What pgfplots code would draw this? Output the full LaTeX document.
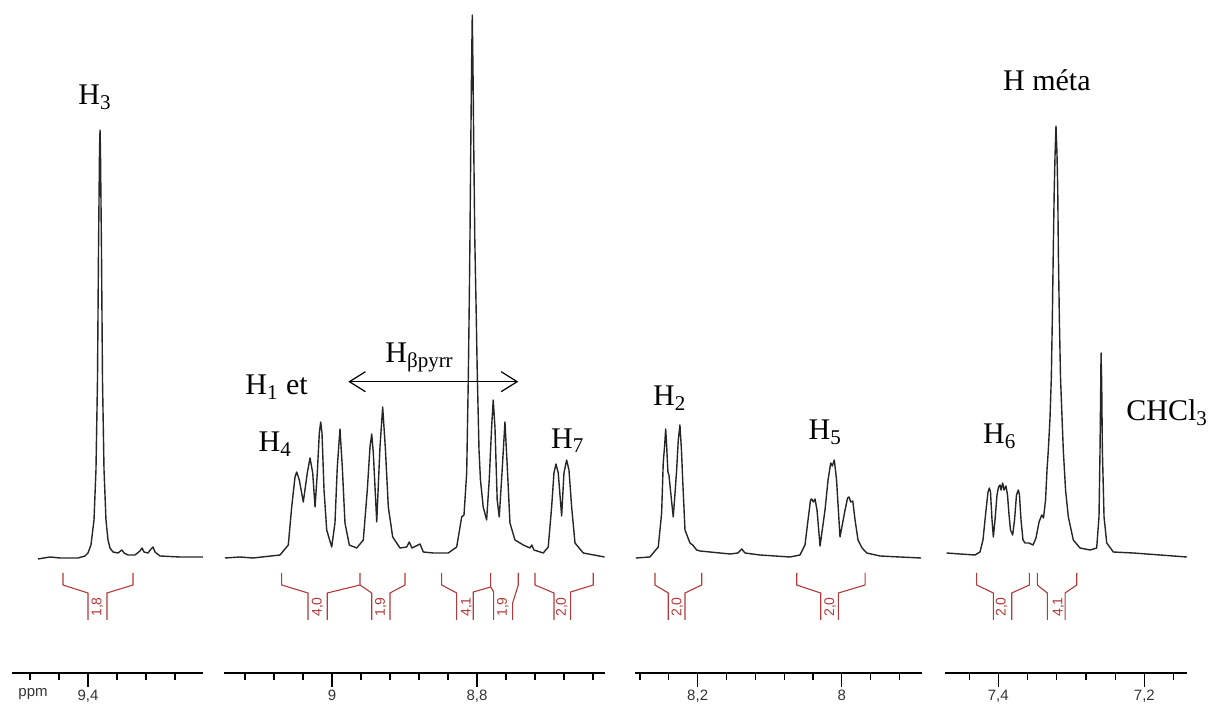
\documentclass[border=0pt]{standalone}
\usepackage{fontspec}
\setmainfont{Liberation Serif}
\setsansfont{Liberation Sans}
\usepackage{pgfplots}
\pgfplotsset{compat=1.18}
\usetikzlibrary{arrows.meta}

\definecolor{intred}{RGB}{178,58,58}

\pgfplotsset{
  nmr/.style={
    scale only axis, height=336.5pt, ymin=-115, ymax=558,
    anchor=north west, x dir=reverse,
    axis x line=bottom, axis y line=none,
    axis line style={line width=0.7pt, black, -},
    tick align=outside, major tick length=7pt, minor tick length=3.5pt,
    every tick/.style={black, line width=0.6pt},
    xticklabel style={font=\sffamily\fontsize{7.5}{8}\selectfont, black!80, yshift=2pt},
    /pgf/number format/assume math mode=true,
    /pgf/number format/use comma,
    clip=false,
  },
  spec/.style={black!85, line width=0.7pt, line join=round, no markers},
  intcurve/.style={intred, line width=0.55pt, no markers},
}
\tikzset{intlab/.style={intred, rotate=90, font=\sffamily\fontsize{7}{8}\selectfont, inner sep=0pt}}
\newcommand{\lab}{\fontsize{15}{18}\selectfont}

\begin{document}
\begin{tikzpicture}
\path[use as bounding box] (0,0) rectangle (606pt,-352pt);

% panel 1 : H3
\begin{axis}[nmr, at={(6pt,0)}, width=95.5pt, xmin=9.2414, xmax=9.5048,
  xtick={9.4}, minor xtick={9.48,9.44,9.36,9.32,9.28}]
\addplot[spec] coordinates {
(9.4690,-1) (9.4524,1) (9.4386,0) (9.4138,0) (9.4041,2) (9.4000,5) (9.3959,13)
(9.3917,38) (9.3890,88) (9.3869,178) (9.3855,308) (9.3841,408) (9.3834,428)
(9.3828,408) (9.3814,308) (9.3800,178) (9.3779,88) (9.3752,38) (9.3724,18)
(9.3697,10) (9.3655,6) (9.3586,5) (9.3531,8) (9.3503,5) (9.3448,3) (9.3352,3)
(9.3283,7) (9.3255,10) (9.3228,6) (9.3172,5) (9.3131,9) (9.3103,11) (9.3076,6)
(9.3007,2) (9.2731,1) (9.2414,1)};
\addplot[intcurve] coordinates {(9.4345,-15) (9.4345,-27) (9.4000,-35) (9.4000,-62)};
\addplot[intcurve] coordinates {(9.3738,-62) (9.3738,-35) (9.3379,-27) (9.3379,-15)};
\node[intlab] at (axis cs:9.3869,-49) {1,8};
\end{axis}

% panel 2 : H1/H4, Hbeta pyrr, H7
\begin{axis}[nmr, at={(112pt,0)}, width=190.5pt, xmin=8.6234, xmax=9.149,
  xtick={9,8.8}, minor xtick={9.12,9.08,9.04,8.96,8.92,8.88,8.84,8.76,8.72,8.68,8.64}]
\addplot[spec] coordinates {
(9.1476,0) (9.1269,1) (9.1090,0) (9.0717,3) (9.0603,13) (9.0556,51) (9.0510,81)
(9.0487,86) (9.0451,78) (9.0396,56) (9.0341,85) (9.0303,100) (9.0266,85)
(9.0234,51) (9.0203,85) (9.0175,125) (9.0156,136) (9.0138,125) (9.0110,68)
(9.0073,28) (9.0004,11) (8.9959,35) (8.9927,91) (8.9890,129) (8.9858,91)
(8.9821,35) (8.9761,13) (8.9659,10) (8.9568,18) (8.9513,68) (8.9476,111)
(8.9452,124) (8.9430,105) (8.9383,36) (8.9338,111) (8.9301,151) (8.9265,111)
(8.9223,51) (8.9163,21) (8.9062,10) (8.8970,11) (8.8934,16) (8.8897,10)
(8.8786,14) (8.8740,6) (8.8603,5) (8.8396,5) (8.8280,11) (8.8211,41) (8.8179,43)
(8.8142,85) (8.8120,178) (8.8106,258) (8.8097,318) (8.8086,408) (8.8075,488)
(8.8065,543) (8.8055,488) (8.8044,408) (8.8030,318) (8.8014,258) (8.7996,185)
(8.7972,108) (8.7952,78) (8.7914,51) (8.7867,38) (8.7831,78) (8.7798,131)
(8.7776,158) (8.7752,131) (8.7721,58) (8.7693,41) (8.7655,85) (8.7614,136)
(8.7582,91) (8.7545,35) (8.7476,18) (8.7361,13) (8.7269,10) (8.7245,13)
(8.7214,8) (8.7086,5) (8.7017,11) (8.6970,51) (8.6938,85) (8.6910,94)
(8.6879,85) (8.6832,42) (8.6800,85) (8.6763,98) (8.6731,88) (8.6694,51)
(8.6648,15) (8.6534,5) (8.6240,1)};
\addplot[intcurve] coordinates {(9.0694,-15) (9.0694,-27) (9.0331,-35) (9.0331,-62)};
\addplot[intcurve] coordinates {(9.0065,-62) (9.0065,-35) (8.9614,-27) (8.9614,-15)};
\addplot[intcurve] coordinates {(8.9614,-27) (8.9452,-35) (8.9452,-62)};
\addplot[intcurve] coordinates {(8.9200,-62) (8.9200,-35) (8.8993,-27) (8.8993,-15)};
\addplot[intcurve] coordinates {(8.8487,-15) (8.8487,-27) (8.8280,-35) (8.8280,-62)};
\addplot[intcurve] coordinates {(8.8051,-62) (8.8051,-34) (8.7811,-29) (8.7811,-15)};
\addplot[intcurve] coordinates {(8.7811,-29) (8.7770,-34) (8.7770,-62)};
\addplot[intcurve] coordinates {(8.7508,-62) (8.7508,-45) (8.7430,-27) (8.7430,-15)};
\addplot[intcurve] coordinates {(8.7200,-15) (8.7200,-27) (8.6938,-35) (8.6938,-62)};
\addplot[intcurve] coordinates {(8.6708,-62) (8.6708,-34) (8.6396,-27) (8.6396,-15)};
\node[intlab] at (axis cs:9.0197,-49) {4,0};
\node[intlab] at (axis cs:8.9327,-49) {1,9};
\node[intlab] at (axis cs:8.8142,-49) {4,1};
\node[intlab] at (axis cs:8.7641,-49) {1,9};
\node[intlab] at (axis cs:8.6828,-49) {2,0};
\end{axis}

% panel 3 : H2, H5
\begin{axis}[nmr, at={(317.5pt,0)}, width=143.35pt, xmin=7.889, xmax=8.287,
  xtick={8.2,8}, minor xtick={8.28,8.24,8.16,8.12,8.08,8.04,7.96,7.92}]
\addplot[spec] coordinates {
(8.2857,0) (8.2663,1) (8.2547,11) (8.2500,45) (8.2478,95) (8.2458,113)
(8.2444,129) (8.2431,113) (8.2413,86) (8.2399,83) (8.2378,68) (8.2339,41)
(8.2311,68) (8.2292,88) (8.2269,118) (8.2246,133) (8.2225,108) (8.2208,78)
(8.2176,28) (8.2107,15) (8.2069,13) (8.2014,8) (8.1968,7) (8.1829,6) (8.1551,4)
(8.1440,5) (8.1389,9) (8.1343,5) (8.1135,3) (8.0718,1) (8.0579,3) (8.0510,13)
(8.0468,38) (8.0433,58) (8.0417,59) (8.0394,56) (8.0371,59) (8.0343,48)
(8.0301,12) (8.0232,48) (8.0190,78) (8.0153,95) (8.0131,92) (8.0103,98)
(8.0072,78) (8.0024,21) (7.9954,48) (7.9919,60) (7.9899,61) (7.9875,56)
(7.9847,57) (7.9815,38) (7.9774,18) (7.9718,10) (7.9653,5) (7.9468,2)
(7.9190,1) (7.8899,0)};
\addplot[intcurve] coordinates {(8.2593,-15) (8.2593,-27) (8.2408,-35) (8.2408,-62)};
\addplot[intcurve] coordinates {(8.2176,-62) (8.2176,-35) (8.1944,-27) (8.1944,-15)};
\addplot[intcurve] coordinates {(8.0625,-15) (8.0625,-27) (8.0292,-35) (8.0292,-62)};
\addplot[intcurve] coordinates {(8.0047,-62) (8.0047,-35) (7.9676,-27) (7.9676,-15)};
\node[intlab] at (axis cs:8.2280,-49) {2,0};
\node[intlab] at (axis cs:8.0160,-49) {2,0};
\end{axis}

% panel 4 : H6, H meta, CHCl3
\begin{axis}[nmr, at={(472.5pt,0)}, width=120.85pt, xmin=7.142, xmax=7.473,
  xtick={7.4,7.2}, minor xtick={7.44,7.36,7.32,7.28,7.24,7.16}]
\addplot[spec] coordinates {
(7.4707,5) (7.4525,4) (7.4319,3) (7.4251,6) (7.4210,18) (7.4168,48) (7.4141,66)
(7.4123,70) (7.4107,66) (7.4086,38) (7.4068,21) (7.4045,38) (7.4018,63)
(7.3997,71) (7.3977,73) (7.3963,68) (7.3940,75) (7.3922,68) (7.3895,72)
(7.3874,63) (7.3853,43) (7.3833,28) (7.3803,23) (7.3778,38) (7.3751,63)
(7.3726,68) (7.3710,63) (7.3689,38) (7.3662,18) (7.3634,15) (7.3579,15)
(7.3525,13) (7.3484,20) (7.3442,36) (7.3405,43) (7.3381,40) (7.3353,58)
(7.3333,88) (7.3315,108) (7.3292,140) (7.3274,180) (7.3260,240) (7.3247,308)
(7.3234,368) (7.3223,403) (7.3210,432) (7.3196,403) (7.3186,368) (7.3178,308)
(7.3164,240) (7.3148,180) (7.3127,140) (7.3110,108) (7.3079,68) (7.3041,41)
(7.2973,18) (7.2881,10) (7.2744,8) (7.2653,10) (7.2621,41) (7.2607,108)
(7.2597,175) (7.2593,205) (7.2584,175) (7.2575,108) (7.2552,41) (7.2515,15)
(7.2425,6) (7.2151,5) (7.1784,3) (7.1419,1)};
\addplot[intcurve] coordinates {(7.4296,-15) (7.4296,-27) (7.4068,-35) (7.4068,-62)};
\addplot[intcurve] coordinates {(7.3816,-62) (7.3816,-35) (7.3575,-27) (7.3575,-15)};
\addplot[intcurve] coordinates {(7.3466,-15) (7.3466,-27) (7.3329,-35) (7.3329,-62)};
\addplot[intcurve] coordinates {(7.3086,-62) (7.3086,-35) (7.2926,-27) (7.2926,-15)};
\node[intlab] at (axis cs:7.3953,-49) {2,0};
\node[intlab] at (axis cs:7.3178,-49) {4,1};
\end{axis}

% annotations
\node[font=\sffamily\fontsize{7.5}{8}\selectfont, black!80] at (16.5pt,-347pt) {ppm};
\begin{scope}[every node/.style={anchor=base west, inner sep=0pt, font=\lab}]
\node at (39pt,-52.5pt) {H\textsubscript{3}};
\node at (501.35pt,-45.5pt) {H méta};
\node at (122.5pt,-197.5pt) {H\textsubscript{1} et};
\node at (129.15pt,-225.85pt) {H\textsubscript{4}};
\node at (192.5pt,-181.5pt) {H\textsubscript{βpyrr}};
\node at (275.35pt,-224.15pt) {H\textsubscript{7}};
\node at (326.35pt,-203pt) {H\textsubscript{2}};
\node at (404.15pt,-220pt) {H\textsubscript{5}};
\node at (491.35pt,-222pt) {H\textsubscript{6}};
\node at (563pt,-210.35pt) {CHCl\textsubscript{3}};
\end{scope}
\draw[line width=0.6pt, {Straight Barb[length=8pt,width=10pt]}-{Straight Barb[length=8pt,width=10pt]}]
  (174.15pt,-190.85pt) -- (259.15pt,-190.85pt);
\end{tikzpicture}
\end{document}
